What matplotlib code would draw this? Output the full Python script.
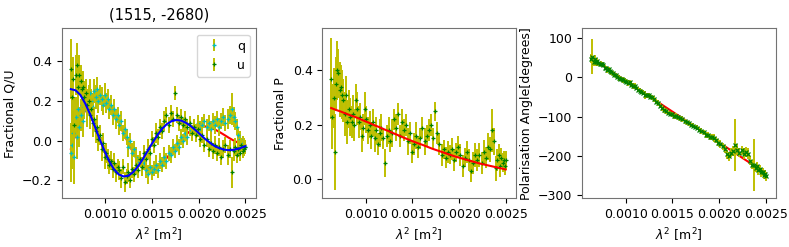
import numpy as np
import matplotlib
matplotlib.use('Agg')
import matplotlib.pyplot as plt
from matplotlib.ticker import FormatStrFormatter

# lambda^2 of each channel, in units of 1e-4 m^2
lam2_e4 = [6.30, 6.42, 6.56, 6.68, 6.81, 6.94, 7.07, 7.20, 7.34, 7.47,
           7.62, 7.76, 7.90, 8.05, 8.19, 8.33, 8.48, 8.63, 8.79, 8.94,
           9.09, 9.26, 9.42, 9.59, 9.75, 9.92, 10.08, 10.26, 10.43, 10.61,
           10.78, 10.95, 11.14, 11.32, 11.51, 11.69, 11.88, 12.07, 12.27, 12.47,
           12.66, 12.86, 13.06, 13.27, 13.47, 13.68, 13.88, 14.10, 14.31, 14.53,
           14.75, 14.96, 15.19, 15.41, 15.64, 15.87, 16.09, 16.32, 16.54, 16.77,
           17.00, 17.22, 17.45, 17.67, 17.90, 18.13, 18.35, 18.58, 18.80, 19.03,
           19.26, 19.48, 19.71, 19.94, 20.16, 20.39, 20.61, 20.84, 21.07, 21.29,
           21.52, 21.74, 21.97, 22.20, 22.42, 22.65, 22.87, 23.10, 23.33, 23.55,
           23.78, 23.93, 24.09, 24.24, 24.39, 24.55, 24.70, 24.81, 24.91, 25.00]

q_frac = [-0.06, -0.02, 0.04, -0.08, 0.12, 0.02, 0.16, 0.07, 0.13, 0.18,
          0.10, 0.19, 0.22, 0.15, 0.21, 0.24, 0.20, 0.17, 0.25, 0.22,
          0.26, 0.20, 0.23, 0.21, 0.18, 0.23, 0.19, 0.21, 0.16, 0.18,
          0.13, 0.16, 0.11, 0.13, 0.08, 0.10, 0.04, 0.06, 0.02, -0.03,
          0.00, -0.06, -0.04, -0.08, -0.11, -0.09, -0.13, -0.11, -0.15, -0.17,
          -0.13, -0.16, -0.14, -0.12, -0.15, -0.10, -0.12, -0.08, -0.10, -0.06,
          -0.07, -0.03, -0.05, -0.01, -0.03, 0.02, 0.00, 0.04, 0.02, 0.06,
          0.04, 0.07, 0.05, 0.09, 0.06, 0.08, 0.10, 0.07, 0.09, 0.06,
          0.10, 0.08, 0.11, 0.07, 0.10, 0.12, 0.09, 0.11, 0.13, 0.16,
          0.12, 0.10, 0.07, 0.03, 0.01, -0.02, -0.01, -0.04, -0.02, -0.03]

u_frac = [0.36, 0.22, 0.31, 0.08, 0.33, 0.38, 0.27, 0.33, 0.30, 0.26,
          0.27, 0.22, 0.24, 0.18, 0.20, 0.13, 0.16, 0.09, 0.11, 0.05,
          0.07, 0.01, 0.03, -0.04, -0.01, -0.08, -0.06, -0.09, -0.12, -0.10,
          -0.14, -0.11, -0.16, -0.13, -0.15, -0.19, -0.13, -0.21, -0.18, -0.16,
          -0.20, -0.14, -0.17, -0.12, -0.15, -0.09, -0.13, -0.06, -0.09, -0.04,
          -0.06, 0.01, -0.02, 0.04, 0.02, 0.07, 0.05, 0.10, 0.13, 0.08,
          0.14, 0.11, 0.24, 0.13, 0.09, 0.12, 0.08, 0.11, 0.07, 0.09,
          0.04, 0.07, 0.03, 0.06, 0.01, 0.03, -0.02, 0.01, -0.04, -0.01,
          -0.05, -0.02, -0.06, -0.03, -0.08, -0.04, -0.02, -0.07, -0.04, -0.16,
          -0.05, -0.03, -0.07, -0.04, -0.06, -0.02, -0.05, -0.03, -0.04, -0.03]

p_frac = [0.37, 0.23, 0.30, 0.10, 0.35, 0.40, 0.39, 0.33, 0.34, 0.31,
          0.29, 0.24, 0.31, 0.21, 0.26, 0.23, 0.21, 0.24, 0.20, 0.29,
          0.26, 0.21, 0.23, 0.16, 0.19, 0.26, 0.22, 0.18, 0.20, 0.16,
          0.21, 0.15, 0.18, 0.13, 0.17, 0.19, 0.15, 0.06, 0.16, 0.18,
          0.14, 0.17, 0.22, 0.19, 0.24, 0.16, 0.21, 0.18, 0.20, 0.14,
          0.17, 0.10, 0.13, 0.16, 0.12, 0.15, 0.19, 0.14, 0.16, 0.18,
          0.20, 0.15, 0.25, 0.17, 0.13, 0.09, 0.11, 0.08, 0.10, 0.09,
          0.11, 0.07, 0.10, 0.12, 0.09, 0.05, 0.08, 0.10, 0.07, 0.03,
          0.06, 0.09, 0.07, 0.09, 0.06, 0.10, 0.08, 0.12, 0.11, 0.18,
          0.14, 0.04, 0.07, 0.09, 0.05, 0.08, 0.06, 0.07, 0.05, 0.07]

sigma = [0.15, 0.12, 0.11, 0.14, 0.10, 0.11, 0.09, 0.10, 0.08, 0.09,
         0.08, 0.08, 0.07, 0.08, 0.07, 0.07, 0.06, 0.07, 0.06, 0.06,
         0.06, 0.06, 0.05, 0.06, 0.05, 0.06, 0.05, 0.05, 0.05, 0.05,
         0.05, 0.05, 0.05, 0.04, 0.05, 0.05, 0.04, 0.05, 0.04, 0.05,
         0.04, 0.05, 0.04, 0.05, 0.04, 0.04, 0.05, 0.04, 0.04, 0.05,
         0.04, 0.04, 0.04, 0.05, 0.04, 0.04, 0.04, 0.05, 0.04, 0.04,
         0.04, 0.04, 0.035, 0.04, 0.04, 0.04, 0.035, 0.04, 0.04, 0.035,
         0.04, 0.04, 0.035, 0.04, 0.04, 0.04, 0.035, 0.04, 0.04, 0.04,
         0.04, 0.045, 0.04, 0.045, 0.04, 0.045, 0.04, 0.05, 0.045, 0.08,
         0.05, 0.045, 0.04, 0.04, 0.04, 0.035, 0.035, 0.035, 0.035, 0.035]

chi_deg = [48, 53, 40, 46, 38, 41, 36, 34, 35, 33,
           32, 25, 24, 18, 21, 15, 13, 10, 7, 5,
           2, -1, -3, -5, -7, -8, -11, -14, -13, -19,
           -22, -22, -26, -31, -34, -36, -39, -44, -46, -46,
           -49, -51, -55, -62, -65, -72, -78, -84, -86, -91,
           -92, -94, -99, -98, -102, -104, -106, -112, -114, -117,
           -121, -123, -127, -128, -133, -137, -140, -146, -147, -152,
           -151, -155, -160, -166, -170, -176, -182, -196, -201, -192,
           -187, -172, -184, -192, -186, -194, -190, -195, -212, -222,
           -224, -232, -226, -236, -234, -242, -240, -248, -245, -252]

chi_err = [12, 45, 12, 10, 8, 8, 7, 6, 6, 6,
           6, 6, 6, 7, 6, 6, 6, 6, 6, 6,
           6, 7, 6, 6, 7, 6, 6, 7, 6, 6,
           7, 7, 6, 7, 6, 7, 6, 10, 7, 6,
           7, 6, 7, 6, 7, 6, 7, 6, 7, 6,
           7, 6, 7, 7, 7, 6, 7, 7, 6, 7,
           6, 7, 5, 7, 7, 7, 7, 8, 7, 8,
           8, 10, 8, 9, 10, 10, 11, 11, 12, 11,
           12, 66, 14, 12, 12, 13, 12, 14, 12, 12,
           66, 10, 11, 12, 10, 11, 10, 12, 10, 11]

# fitted model curves
model_lam2_e4 = [6.30, 6.81, 7.33, 7.84, 8.36, 8.87, 9.38, 9.90, 10.41, 10.92,
                 11.44, 11.95, 12.47, 12.98, 13.49, 14.01, 14.52, 15.03, 15.55, 16.06,
                 16.58, 17.09, 17.60, 18.12, 18.63, 19.14, 19.66, 20.17, 20.68, 21.20,
                 21.71, 22.22, 22.74, 23.25, 23.77, 24.28, 24.79, 25.00]
q_model = [-0.041, 0.032, 0.099, 0.154, 0.194, 0.217, 0.222, 0.208, 0.179, 0.138,
           0.089, 0.037, -0.014, -0.060, -0.097, -0.123, -0.137, -0.139, -0.130, -0.113,
           -0.087, -0.057, -0.026, 0.004, 0.030, 0.050, 0.064, 0.072, 0.072, 0.067,
           0.057, 0.044, 0.029, 0.014, 0.000, -0.011, -0.020, -0.022]
u_model = [0.259, 0.253, 0.229, 0.187, 0.133, 0.072, 0.008, -0.051, -0.104, -0.144,
           -0.170, -0.180, -0.176, -0.158, -0.130, -0.093, -0.052, -0.012, 0.026, 0.059,
           0.083, 0.098, 0.104, 0.101, 0.090, 0.074, 0.053, 0.031, 0.009, -0.010,
           -0.027, -0.038, -0.045, -0.048, -0.046, -0.040, -0.032, -0.028]
p_model = [0.262, 0.255, 0.249, 0.242, 0.235, 0.229, 0.222, 0.214, 0.207, 0.199,
           0.192, 0.184, 0.177, 0.169, 0.162, 0.154, 0.147, 0.140, 0.133, 0.127,
           0.120, 0.113, 0.107, 0.101, 0.095, 0.089, 0.083, 0.078, 0.073, 0.068,
           0.063, 0.058, 0.054, 0.050, 0.046, 0.042, 0.038, 0.036]
chi_model_lam2_e4 = [6.30, 25.00]
chi_model = [49.5, -244.0]

lam2 = np.array(lam2_e4) * 1e-4
model_lam2 = np.array(model_lam2_e4) * 1e-4
chi_model_lam2 = np.array(chi_model_lam2_e4) * 1e-4

fig = plt.figure(figsize=(7.89, 2.47), dpi=100)
ax1 = fig.add_axes([0.0786, 0.197, 0.2459, 0.6885])
ax2 = fig.add_axes([0.4085, 0.197, 0.2459, 0.6885])
ax3 = fig.add_axes([0.738, 0.197, 0.2459, 0.6885])

eb = dict(ecolor='y', elinewidth=1.4, markersize=3.5, markeredgewidth=0.9)

# Q/U
ax1.plot(model_lam2, q_model, 'r-', lw=1.5, zorder=1)
ax1.errorbar(lam2, q_frac, yerr=sigma, fmt='+', color='c', label='q', zorder=2, **eb)
ax1.errorbar(lam2, u_frac, yerr=sigma, fmt='+', color='g', label='u', zorder=3, **eb)
ax1.plot(model_lam2, u_model, 'b-', lw=1.5, zorder=4)
ax1.set_ylabel('Fractional Q/U', fontsize=9)
ax1.set_title('(1515, -2680)', fontsize=10.5)
ax1.set_ylim(-0.29, 0.565)
ax1.legend(loc='upper right', fontsize=9)

# P
ax2.errorbar(lam2, p_frac, yerr=sigma, fmt='+', color='g', zorder=2, **eb)
ax2.plot(model_lam2, p_model, 'r-', lw=1.5, zorder=3)
ax2.set_ylabel('Fractional P', fontsize=9)
ax2.set_ylim(-0.07, 0.555)

# angle
ax3.plot(chi_model_lam2, chi_model, 'r-', lw=1.5, zorder=1)
ax3.errorbar(lam2, chi_deg, yerr=chi_err, fmt='x', color='g', zorder=2, **eb)
ax3.set_ylabel('Polarisation Angle[degrees]', fontsize=9)
ax3.set_ylim(-308, 125)

for ax in (ax1, ax2, ax3):
    ax.set_xlim(0.000535, 0.002615)
    ax.set_xticks([0.0010, 0.0015, 0.0020, 0.0025])
    ax.xaxis.set_major_formatter(FormatStrFormatter('%.4f'))
    ax.set_xlabel(r'$\lambda^2$ [m$^2$]', fontsize=9)
    ax.tick_params(labelsize=9)
    for s in ax.spines.values():
        s.set_color('0.45')

ax1.set_yticks([-0.2, 0.0, 0.2, 0.4])
ax2.set_yticks([0.0, 0.2, 0.4])
ax3.set_yticks([-300, -200, -100, 0, 100])

fig.savefig('out.png', dpi=100)
